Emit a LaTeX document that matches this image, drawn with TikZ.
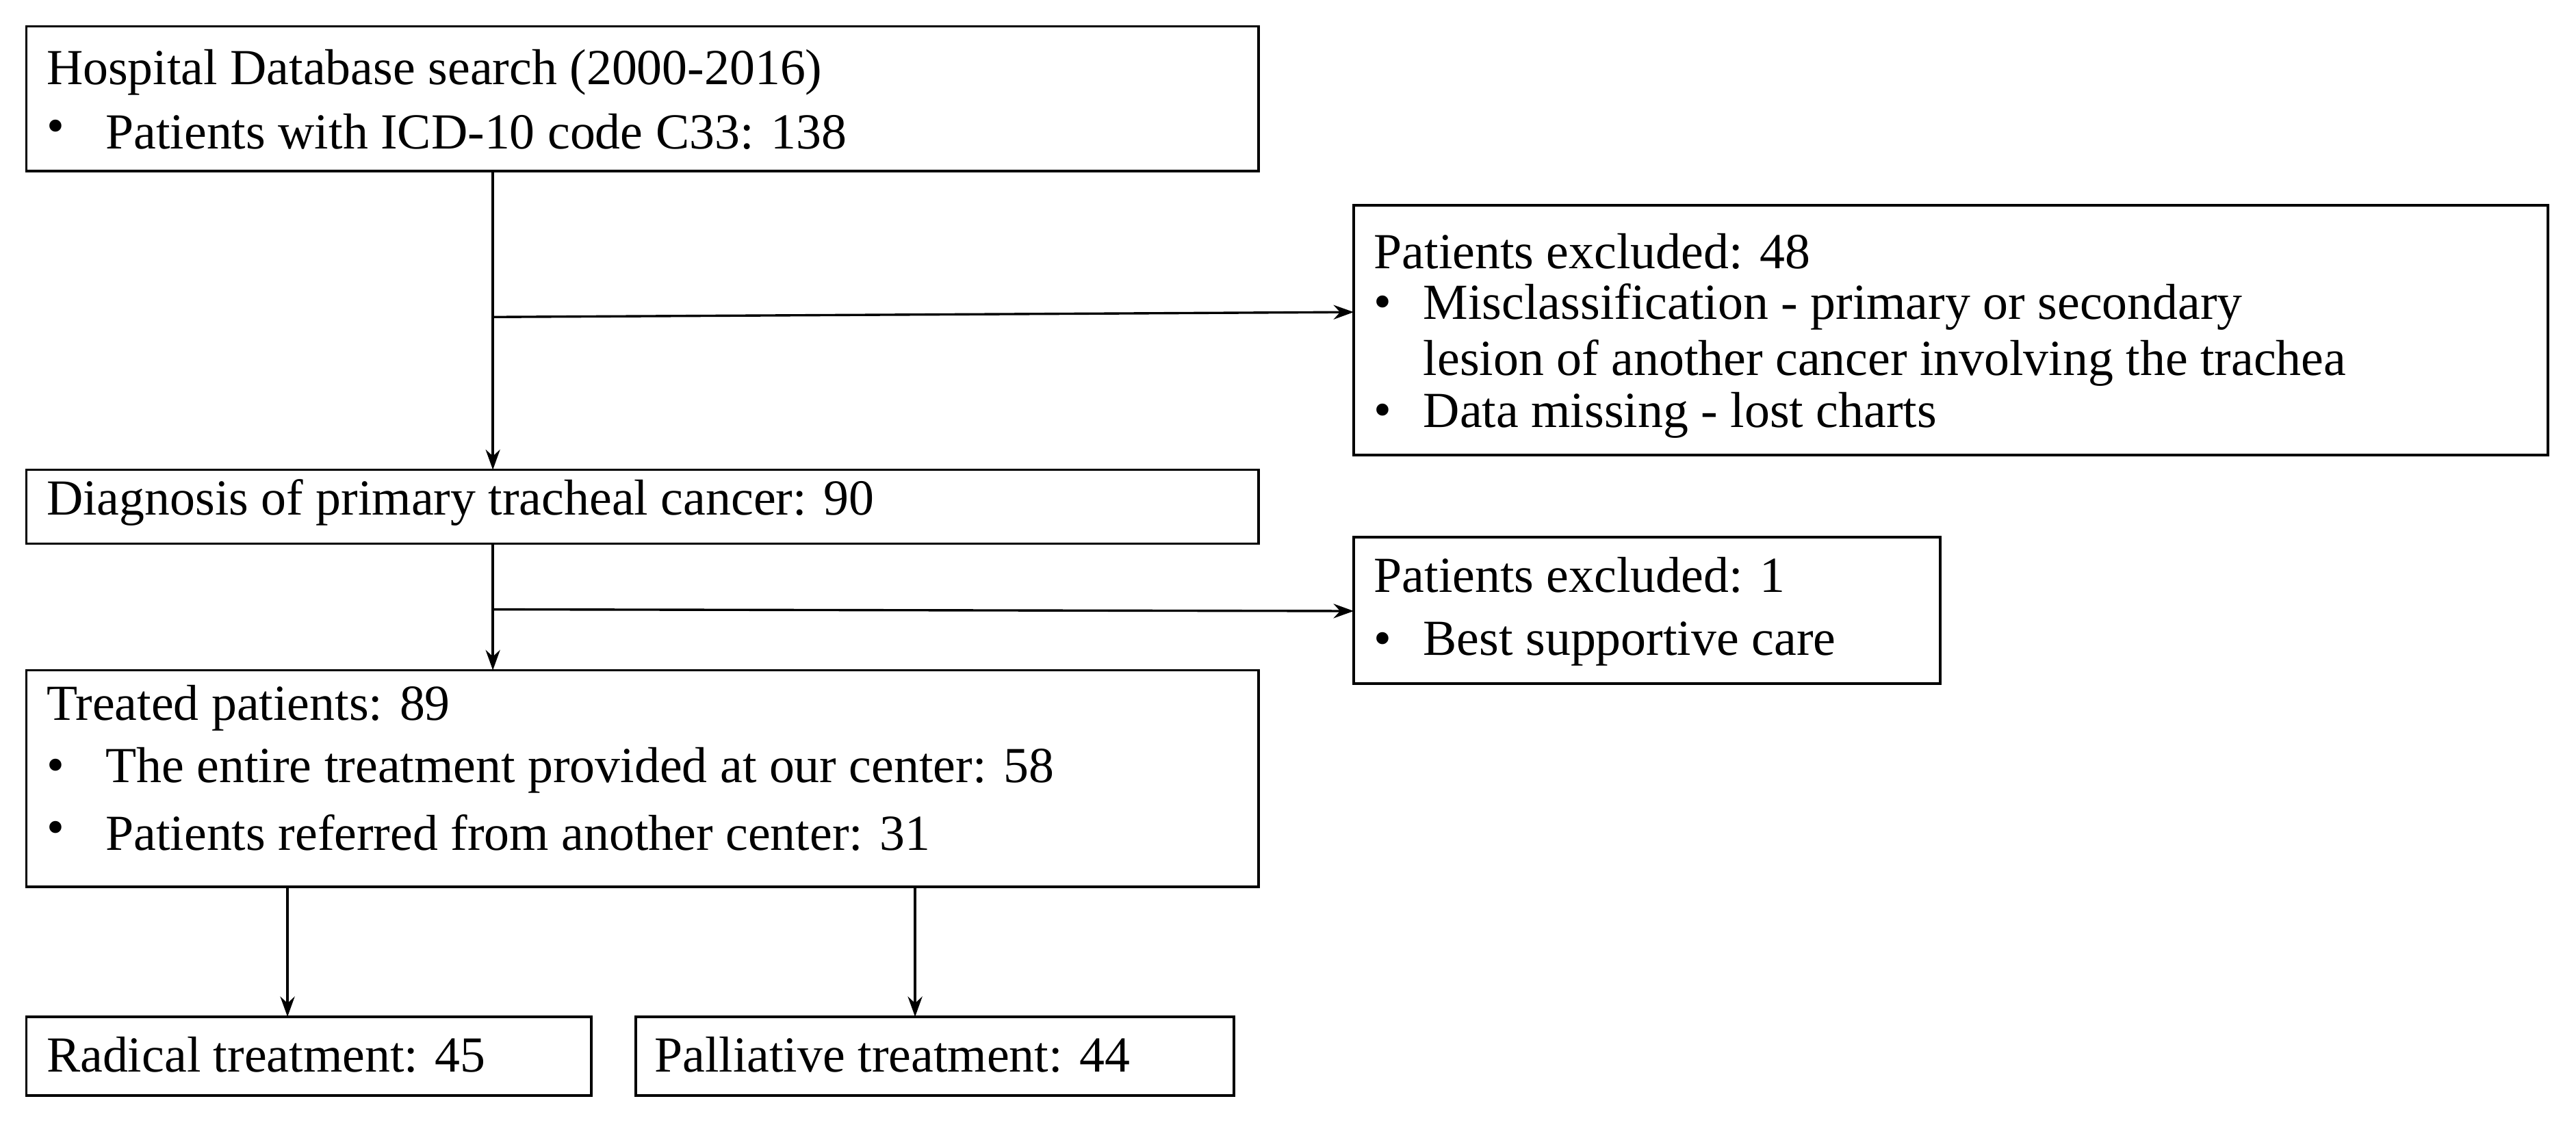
\documentclass[tikz,border=0pt]{standalone}
\usepackage{fontspec}
\setmainfont{Liberation Serif}
\usetikzlibrary{arrows.meta}
\begin{document}
\begin{tikzpicture}[x=0.02cm,y=-0.02cm,
  box/.style={draw,line width=0.9pt,anchor=north west,inner sep=0pt,outer sep=0pt},
  txt/.style={anchor=west,inner sep=0pt,font=\fontsize{17.5}{21}\selectfont},
  arr/.style={-{Stealth[length=7pt,width=5pt]},line width=0.8pt}]
\useasboundingbox (0,0) rectangle (1568,686);
\newcommand{\bx}[4]{\node[box,minimum width=#3*0.02cm,minimum height=#4*0.02cm] (#1) at (#2) {};}
\bx{b1}{16,16}{750}{88}
\bx{b2}{824,125}{727}{152}
\bx{b3}{16,286}{750}{45}
\bx{b4}{824,327}{357}{89}
\bx{b5}{16,408}{750}{132}
\bx{b6}{16,619}{344}{48}
\bx{b7}{387,619}{364}{48}
\node[txt] (t1) at (28,44) {Hospital Database search (2000-2016)};
\node[txt] (t1a) at (28,80) {•}; \node[txt] (t1b) at (64,80) {Patients with ICD-10 code C33: 138};
\node[txt] (t2) at (836,153) {Patients excluded: 48};
\node[txt] (t2a) at (836,187) {•}; \node[txt] (t2b) at (866,187) {Misclassification - primary or secondary};
\node[txt] (t2c) at (866,221) {lesion of another cancer involving the trachea};
\node[txt] (t2d) at (836,253) {•}; \node[txt] (t2e) at (866,253) {Data missing - lost charts};
\node[txt] (t3) at (28,306) {Diagnosis of primary tracheal cancer: 90};
\node[txt] (t4) at (836,350) {Patients excluded: 1};
\node[txt] (t4a) at (836,392) {•}; \node[txt] (t4b) at (866,392) {Best supportive care};
\node[txt] (t5) at (28,431) {Treated patients: 89};
\node[txt] (t5a) at (28,469) {•}; \node[txt] (t5b) at (64,469) {The entire treatment provided at our center: 58};
\node[txt] (t5c) at (28,507) {•}; \node[txt] (t5d) at (64,507) {Patients referred from another center: 31};
\node[txt] (t6) at (28,642) {Radical treatment: 45};
\node[txt] (t7) at (398,642) {Palliative treatment: 44};
\coordinate (j1) at (300,193);
\coordinate (j2) at (300,371);
\coordinate (e1) at (824,190);
\coordinate (e2) at (824,372);
\coordinate (c6) at (175,0);
\coordinate (c7) at (557,0);
\draw[arr] (b1.south -| j1) -- (b3.north -| j1);
\draw[arr] (j1) -- (e1);
\draw[arr] (b3.south -| j2) -- (b5.north -| j2);
\draw[arr] (j2) -- (e2);
\draw[arr] (b5.south -| c6) -- (b6.north -| c6);
\draw[arr] (b5.south -| c7) -- (b7.north -| c7);
\end{tikzpicture}
\end{document}
